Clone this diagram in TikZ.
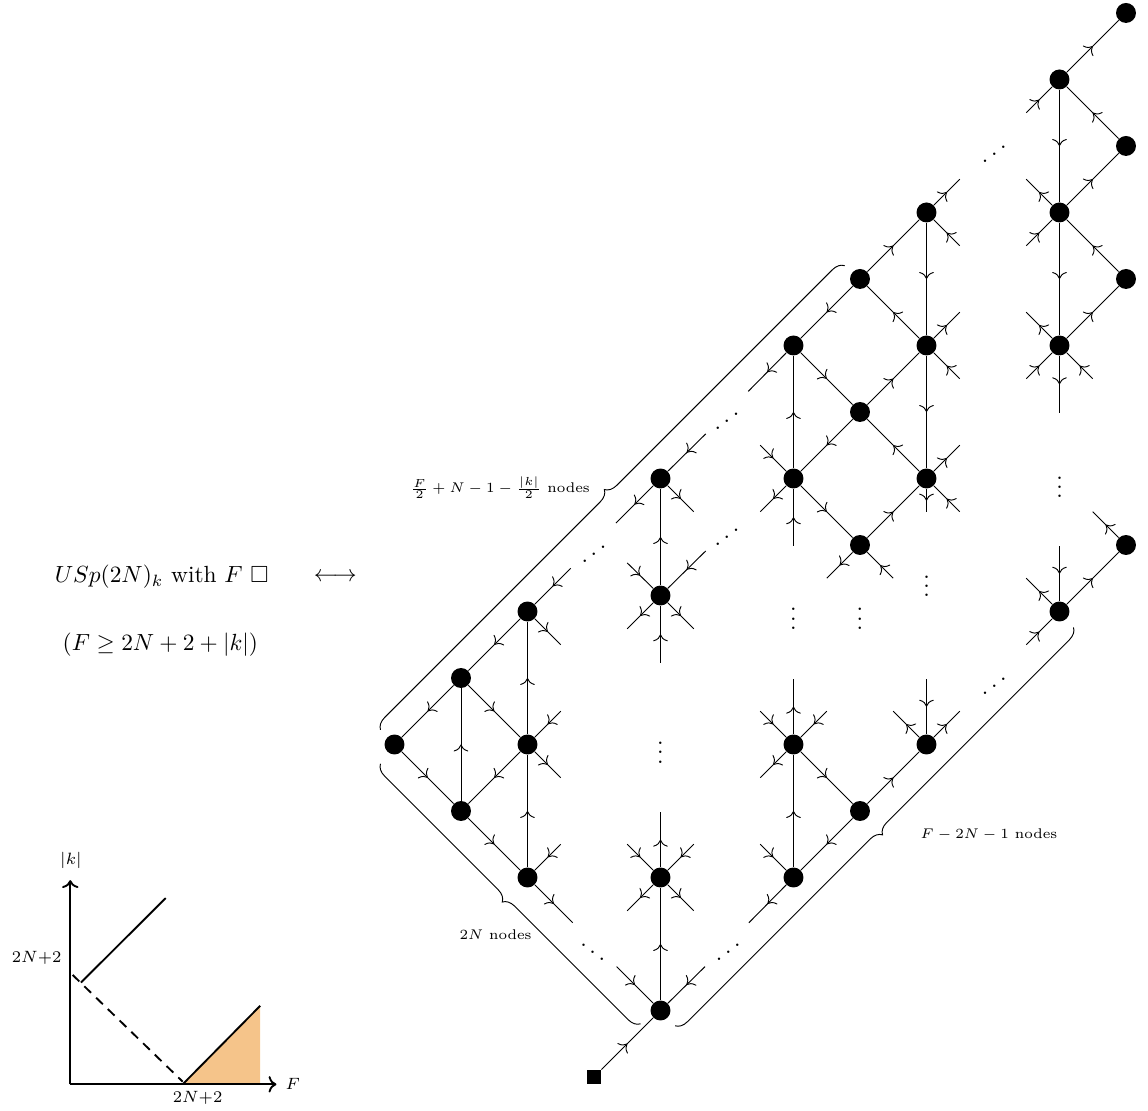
\documentclass[tikz,border=0pt]{standalone}
\usepackage{amssymb}
\usepackage{graphicx}
\usetikzlibrary{arrows.meta,decorations.markings,decorations.pathreplacing}
\definecolor{peach}{RGB}{245,196,138}
\newcommand{\revdots}{\reflectbox{$\ddots$}}

\begin{document}
\begin{tikzpicture}[
  gauge/.style={circle, fill, inner sep=0pt, minimum size=3mm},
  flav/.style={rectangle, fill, inner sep=0pt, minimum size=2.1mm},
  arr/.style={decoration={markings, mark=at position 0.5 with {\arrow{To[scale=1.2]}}}, postaction={decorate}},
  rarr/.style={decoration={markings, mark=at position 0.5 with {\arrowreversed{To[scale=1.2]}}}, postaction={decorate}},
  brc/.style={decorate, decoration={brace, amplitude=5pt}},
  lbl/.style={font=\fontsize{6}{7}\selectfont},
  axlbl/.style={font=\fontsize{7.5}{9}\selectfont},
  dts/.style={anchor=base, inner sep=0pt}
]
\useasboundingbox (-8.932,-0.511) rectangle (8.331,16.195);

% gauge nodes and the flavour node
\foreach \n/\x/\y in {a5/-3/5, b6/-2/6, b4/-2/4, c7/-1/7, c5/-1/5, c3/-1/3,
  d1/1/1, d3/1/3, d7/1/7.24, d9/1/9, e11/3/11, e9/3/9, e5/3/5, e3/3/3,
  f12/4/12, f10/4/10, f8/4/8, f4/4/4, g13/5/13, g11/5/11, g9/5/9, g5/5/5,
  h15/7/15, h13/7/13, h11/7/11, h7/7/7, i16/8/16, i14/8/14, i12/8/12, i8/8/8}
  \node[gauge] (\n) at (\x,\y) {};
\node[flav] (sq) at (0,0) {};

% bifundamentals
\foreach \u/\v in {b6/a5, a5/b4, b4/b6, c7/b6, b6/c5, c5/b4, b4/c3, c5/c7, c3/c5,
  sq/d1, d1/d3, d7/d9, f4/e3, e3/e5, e5/f4, f4/g5, e9/e11, f10/e9, e9/f8,
  f12/e11, e11/f10, g11/f12, f12/g13, f10/g11, g9/f10, f8/g9, g13/g11, g11/g9,
  h15/i16, i14/h15, h15/h13, h13/i14, i12/h13, h13/h11, h11/i12, h7/i8}
  \draw[arr] (\u) -- (\v);

% open legs
\foreach \n/\dx/\dy/\st [count=\i] in {
  c7/0.65/0.65/rarr, c7/0.5/-0.5/arr, c5/0.5/0.5/rarr, c5/0.5/-0.5/arr,
  c3/0.5/0.5/rarr, c3/0.68/-0.68/arr,
  d1/-0.66/0.66/rarr, d1/0.67/0.66/rarr,
  d3/0/0.98/arr, d3/-0.5/0.5/rarr, d3/0.5/0.5/rarr, d3/-0.5/-0.5/arr, d3/0.5/-0.5/arr,
  d7/0/-1.01/rarr, d7/-0.5/0.49/rarr, d7/0.68/0.67/rarr, d7/-0.5/-0.5/arr, d7/0.5/-0.5/arr,
  d9/0.68/0.67/rarr, d9/-0.67/-0.67/arr, d9/0.5/-0.5/arr,
  e3/-0.5/0.5/rarr, e3/-0.67/-0.68/arr,
  e5/0/0.98/arr, e5/-0.5/0.5/rarr, e5/0.5/0.5/rarr, e5/-0.5/-0.5/arr,
  e9/0/-1.01/rarr, e9/-0.5/0.5/rarr, e9/-0.5/-0.5/arr,
  e11/-0.68/-0.69/arr,
  f8/-0.5/-0.5/arr, f8/0.5/-0.5/rarr,
  g13/0.5/0.5/arr, g13/0.5/-0.5/rarr, g11/0.5/0.5/arr, g11/0.5/-0.5/rarr,
  g9/0.5/0.5/arr, g9/0.5/-0.5/rarr, g9/0/-0.51/arr,
  g5/0/0.98/rarr, g5/-0.5/0.5/arr, g5/0.5/0.5/arr,
  h15/-0.5/-0.5/rarr, h13/-0.5/0.5/arr, h13/-0.5/-0.5/rarr,
  h11/-0.5/0.5/arr, h11/-0.5/-0.5/rarr, h11/0.5/-0.5/rarr, h11/0/-1.01/arr,
  h7/0/0.98/rarr, h7/-0.5/0.5/arr, h7/-0.5/-0.5/rarr,
  i8/-0.5/0.5/arr}
{
  \path (\n) ++(\dx,\dy) coordinate (s\i);
  \draw[\st] (\n) -- (s\i);
}

% dots
\foreach \x/\y in {1/4.88, 3/6.89, 4/6.89, 5/7.38, 7/8.87}
  \node[dts] at (\x,\y-0.16) {$\vdots$};
\node[dts] at (-0.02,1.72) {$\ddots$};
\foreach \x/\y in {0/7.86, 2/8.12, 2/9.86, 2.02/1.88, 6.02/5.88, 6.02/13.88}
  \node[dts] at (\x,\y-0.16) {\revdots};

% braces
\coordinate (bu1) at (-3.21,5.22);
\coordinate (bu2) at (3.77,12.2);
\coordinate (bl1) at (0.7,0.8);
\coordinate (bl2) at (-3.21,4.71);
\coordinate (br1) at (7.21,6.76);
\coordinate (br2) at (1.22,0.77);
\draw[brc] (bu1) -- (bu2);
\draw[brc] (bl1) -- (bl2);
\draw[brc] (br1) -- (br2);
\node[lbl] (nu) at (-1.41,8.86) {$\frac{F}{2}+N-1-\frac{|k|}{2}$ nodes};
\node[lbl] (nl) at (-1.48,2.14) {$2N$ nodes};
\node[lbl] (nr) at (5.94,3.64) {$F-2N-1$ nodes};

% theory
\node (usp) at (-6.5,7.52) {$USp(2N)_k$ with $F$ $\square$};
\node (lr) at (-3.89,7.52) {$\longleftrightarrow$};
\node (cond) at (-6.52,6.5) {$(F\geq 2N+2+|k|)$};

% parameter plane
\begin{scope}[shift={(-7.875,-0.11)}, thick]
  \fill[peach] (1.69,0) -- (2.855,0) -- (2.855,1.18) -- cycle;
  \draw[->] (0,0) -- (3.1,0);
  \draw[->] (0,0) -- (0,3.07);
  \draw (1.69,0) -- (2.855,1.18);
  \draw (0.16,1.53) -- (1.435,2.8);
  \draw[dash pattern=on 4pt off 3pt] (0.035,1.645) -- (1.69,0.04);
  \node[axlbl] at (3.345,0) {$F$};
  \node[axlbl] at (0.01,3.37) {$|k|$};
  \node[axlbl] at (-0.505,1.895) {$2N{+}2$};
  \node[axlbl] at (1.915,-0.206) {$2N{+}2$};
\end{scope}
\end{tikzpicture}
\end{document}
